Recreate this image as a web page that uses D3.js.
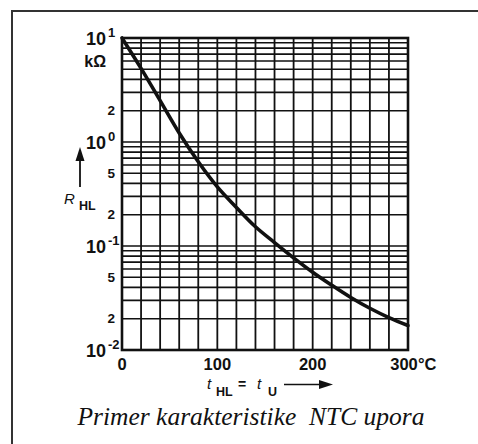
<!DOCTYPE html>
<html>
<head>
<meta charset="utf-8">
<script src="https://cdn.jsdelivr.net/npm/d3@7"></script>
<style>
  html, body { margin: 0; padding: 0; background: #fff; }
  svg { display: block; }
</style>
</head>
<body>
<svg id="chart" width="478" height="444"></svg>
<script>
// ---- data ----
const temps = [0, 20, 40, 60, 80, 100, 120, 140, 160, 180, 200, 220, 240, 260, 280, 300];
const resistance = [10, 5.1, 2.5, 1.22, 0.645, 0.37, 0.235, 0.153, 0.108, 0.077, 0.056, 0.042, 0.032, 0.0252, 0.0205, 0.0172];
const xTickValues = [0, 100, 200, 300];
const xTickLabels = ["0", "100", "200", "300"];
const xUnit = "°C";
const xGridStep = 20;
const yDecades = [0.01, 0.1, 1, 10];
const yDecadeExp = ["-2", "-1", "0", "1"];
const yMinorLabelValues = [0.02, 0.05, 0.2, 0.5, 2];
const yMinorLabelText = ["2", "5", "2", "5", "2"];
const yUnit = "kΩ";
const yTitle = "R";
const yTitleSub = "HL";
const xTitleParts = ["t", "HL", "=", "t", "U"];
const caption = "Primer karakteristike\u00A0 NTC upora";

// ---- layout ----
const svg = d3.select("#chart");
const x = d3.scaleLinear().domain([0, 300]).range([122, 408]);
const y = d3.scaleLog().domain([0.01, 10]).range([350, 38]);
const ink = "#111";
const sans = "'Liberation Sans', Arial, sans-serif";

// outer frame
svg.append("path")
  .attr("d", "M12,444 V11 H478")
  .attr("fill", "none").attr("stroke", "#333").attr("stroke-width", 2);

// grid
const g = svg.append("g");
const xGrid = d3.range(0, 300 + 1e-9, xGridStep);
g.selectAll("line.vx").data(xGrid).join("line")
  .attr("x1", d => x(d)).attr("x2", d => x(d))
  .attr("y1", y(10)).attr("y2", y(0.01))
  .attr("stroke", ink).attr("stroke-width", 1.8);

const yGrid = [];
yDecades.slice(0, 3).forEach(dec => { for (let m = 1; m <= 9; m++) yGrid.push(dec * m); });
yGrid.push(10);
g.selectAll("line.hy").data(yGrid).join("line")
  .attr("x1", x(0)).attr("x2", x(300))
  .attr("y1", d => y(d)).attr("y2", d => y(d))
  .attr("stroke", ink).attr("stroke-width", 1.6);

// plot border
svg.append("rect")
  .attr("x", x(0)).attr("y", y(10))
  .attr("width", x(300) - x(0)).attr("height", y(0.01) - y(10))
  .attr("fill", "none").attr("stroke", ink).attr("stroke-width", 2.6);

// curve
const line = d3.line()
  .x((d, i) => x(temps[i]))
  .y(d => y(d))
  .curve(d3.curveMonotoneX);
svg.append("path")
  .datum(resistance)
  .attr("d", line)
  .attr("fill", "none").attr("stroke", ink).attr("stroke-width", 3.6)
  .attr("stroke-linecap", "round");

// y decade labels
const yl = svg.append("g").attr("font-family", sans).attr("font-weight", "bold").attr("fill", ink);
yDecades.forEach((v, i) => {
  yl.append("text").attr("x", 106).attr("y", y(v) + 6.5)
    .attr("text-anchor", "end").attr("font-size", 18).text("10");
  yl.append("text").attr("x", 108).attr("y", y(v) - 1)
    .attr("text-anchor", "start").attr("font-size", 13).text(yDecadeExp[i]);
});
yMinorLabelValues.forEach((v, i) => {
  yl.append("text").attr("x", 115).attr("y", y(v) + 4.8)
    .attr("text-anchor", "end").attr("font-size", 13.5).text(yMinorLabelText[i]);
});
yl.append("text").attr("x", 106).attr("y", 67)
  .attr("text-anchor", "end").attr("font-size", 16).text(yUnit);

// y title with arrow
const yt = svg.append("g").attr("fill", ink).attr("font-family", sans);
yt.append("text").attr("x", 64).attr("y", 204)
  .attr("font-size", 15).attr("font-style", "italic").text(yTitle);
yt.append("text").attr("x", 79).attr("y", 210)
  .attr("font-size", 12.5).attr("font-weight", "bold").text(yTitleSub);
yt.append("line").attr("x1", 80).attr("x2", 80).attr("y1", 187).attr("y2", 158)
  .attr("stroke", ink).attr("stroke-width", 1.8);
yt.append("path").attr("d", "M80,147 L84.5,161 L75.5,161 Z");

// x tick labels
const xl = svg.append("g").attr("font-family", sans).attr("font-weight", "bold").attr("fill", ink)
  .attr("font-size", 16.5);
xTickValues.forEach((v, i) => {
  xl.append("text").attr("x", x(v) - (i === xTickValues.length - 1 ? 4 : 0)).attr("y", 370)
    .attr("text-anchor", "middle").text(xTickLabels[i]);
});
xl.append("text").attr("x", x(300) + 10).attr("y", 370).attr("text-anchor", "start").text(xUnit);

// x title with arrow
const xt = svg.append("g").attr("fill", ink).attr("font-family", sans);
xt.append("text").attr("x", 207).attr("y", 389).attr("font-size", 15).attr("font-style", "italic").text(xTitleParts[0]);
xt.append("text").attr("x", 216).attr("y", 396).attr("font-size", 12.5).attr("font-weight", "bold").text(xTitleParts[1]);
xt.append("text").attr("x", 242).attr("y", 389).attr("font-size", 14).attr("font-weight", "bold").attr("text-anchor", "middle").text(xTitleParts[2]);
xt.append("text").attr("x", 257).attr("y", 389).attr("font-size", 15).attr("font-style", "italic").text(xTitleParts[3]);
xt.append("text").attr("x", 268).attr("y", 396).attr("font-size", 12.5).attr("font-weight", "bold").text(xTitleParts[4]);
xt.append("line").attr("x1", 284).attr("x2", 322).attr("y1", 384.5).attr("y2", 384.5)
  .attr("stroke", ink).attr("stroke-width", 1.6);
xt.append("path").attr("d", "M333,384.5 L319,380 L319,389 Z");

// caption
svg.append("text").attr("x", 251).attr("y", 425)
  .attr("text-anchor", "middle")
  .attr("font-family", "'Liberation Serif', 'Times New Roman', serif")
  .attr("font-style", "italic").attr("font-size", 25.5).attr("fill", "#111")
  .text(caption);
</script>
</body>
</html>
